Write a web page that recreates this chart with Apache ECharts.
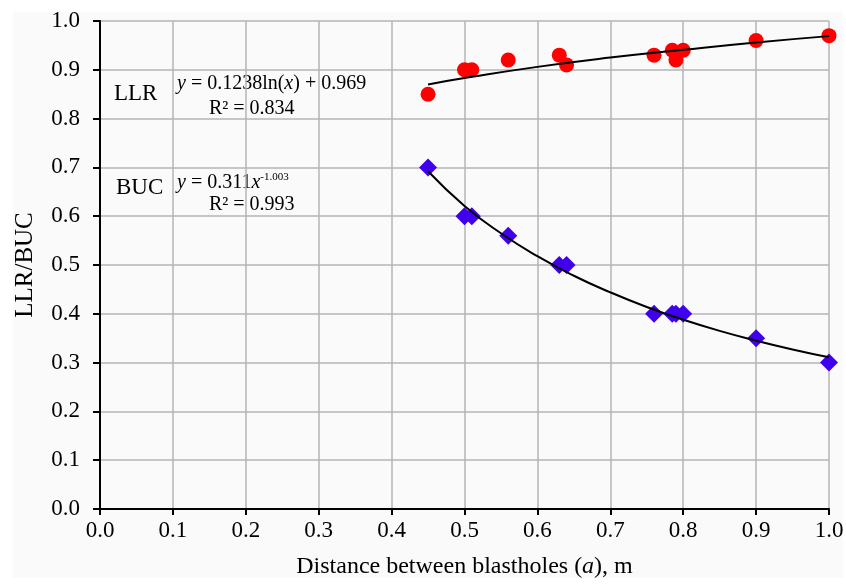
<!DOCTYPE html>
<html>
<head>
<meta charset="utf-8">
<script src="https://cdn.jsdelivr.net/npm/echarts@6/dist/echarts.min.js"></script>
<style>
  html, body { margin: 0; padding: 0; background: #fff; }
  #chart { width: 846px; height: 584px; }
</style>
</head>
<body>
<div id="chart"></div>
<script>
// LLR measurements [distance, value]
const llrPoints = [
  [0.45, 0.85], [0.50, 0.90], [0.51, 0.90], [0.56, 0.92], [0.63, 0.93], [0.64, 0.91],
  [0.76, 0.93], [0.785, 0.94], [0.79, 0.92], [0.80, 0.94], [0.90, 0.96], [1.00, 0.97]
];
// BUC measurements [distance, value]
const bucPoints = [
  [0.45, 0.70], [0.50, 0.60], [0.51, 0.60], [0.56, 0.56], [0.63, 0.50], [0.64, 0.50],
  [0.76, 0.40], [0.785, 0.40], [0.79, 0.40], [0.80, 0.40], [0.90, 0.35], [1.00, 0.30]
];
// trend lines
const llrTrend = [
  [0.45, 0.870], [0.50, 0.883], [0.60, 0.906], [0.70, 0.925], [0.80, 0.941], [0.90, 0.956], [1.00, 0.969]
];
const bucTrend = [
  [0.45, 0.692], [0.50, 0.621], [0.55, 0.565], [0.60, 0.518], [0.65, 0.478], [0.70, 0.444],
  [0.75, 0.414], [0.80, 0.388], [0.85, 0.365], [0.90, 0.345], [0.95, 0.327], [1.00, 0.311]
];

const FONT = '"Liberation Serif", "Times New Roman", serif';

const chart = echarts.init(document.getElementById('chart'), null, { renderer: 'canvas' });

const eqStyle = {
  fontFamily: FONT, fontSize: 20, fill: '#000',
  rich: {
    i: { fontFamily: FONT, fontSize: 20, fontStyle: 'italic' },
    n: { fontFamily: FONT, fontSize: 20 },
    sup: { fontFamily: FONT, fontSize: 11, verticalAlign: 'top', padding: [0, 0, 10, 0] }
  }
};

const option = {
  backgroundColor: '#fff',
  animation: false,
  graphic: [
    { type: 'rect', z: -10, shape: { x: 13, y: 12, width: 830, height: 566 }, style: { fill: '#fafafa' } },
    { type: 'text', left: 114, top: 82, style: { text: 'LLR', font: '23px ' + FONT, fill: '#000' } },
    { type: 'text', left: 177, top: 74, style: Object.assign({}, eqStyle, { text: '{i|y}{n| = 0.1238ln(}{i|x}{n|) + 0.969}' }) },
    { type: 'text', left: 209, top: 99, style: { text: 'R² = 0.834', font: '20px ' + FONT, fill: '#000' } },
    { type: 'text', left: 116, top: 176, style: { text: 'BUC', font: '23px ' + FONT, fill: '#000' } },
    { type: 'text', left: 177, top: 172, style: Object.assign({}, eqStyle, { text: '{i|y}{n| = 0.311}{i|x}{sup|-1.003}' }) },
    { type: 'text', left: 209, top: 195, style: { text: 'R² = 0.993', font: '20px ' + FONT, fill: '#000' } }
  ],
  grid: { left: 100, right: 17, top: 21, bottom: 75, containLabel: false, outerBoundsMode: 'none' },
  xAxis: {
    type: 'value', min: 0, max: 1, interval: 0.1,
    name: '{n|Distance between blastholes (}{i|a}{n|), m}',
    nameLocation: 'middle', nameGap: 46,
    nameTextStyle: {
      fontFamily: FONT, fontSize: 24, color: '#000',
      rich: {
        n: { fontFamily: FONT, fontSize: 24, color: '#000' },
        i: { fontFamily: FONT, fontSize: 24, color: '#000', fontStyle: 'italic' }
      }
    },
    axisLine: { show: true, onZero: false, lineStyle: { color: '#000', width: 2 } },
    axisTick: { show: true, inside: false, length: 6, lineStyle: { color: '#000', width: 2 } },
    axisLabel: { fontFamily: FONT, fontSize: 23, color: '#000', margin: 10,
      formatter: v => v.toFixed(1) },
    splitLine: { show: true, lineStyle: { color: '#b4b4b4', width: 1.5 } }
  },
  yAxis: {
    type: 'value', min: 0, max: 1, interval: 0.1,
    name: 'LLR/BUC',
    nameLocation: 'middle', nameGap: 62, nameRotate: 90,
    nameTextStyle: { fontFamily: FONT, fontSize: 25, color: '#000' },
    axisLine: { show: true, lineStyle: { color: '#000', width: 2 } },
    axisTick: { show: true, inside: false, length: 7, lineStyle: { color: '#000', width: 2 } },
    axisLabel: { fontFamily: FONT, fontSize: 23, color: '#000', margin: 20,
      formatter: v => v.toFixed(1) },
    splitLine: { show: true, lineStyle: { color: '#b4b4b4', width: 1.5 } }
  },
  series: [
    {
      name: 'LLR trend', type: 'line', data: llrTrend, smooth: true, symbol: 'none',
      lineStyle: { color: '#000', width: 2 }, z: 3, silent: true
    },
    {
      name: 'BUC trend', type: 'line', data: bucTrend, smooth: true, symbol: 'none',
      lineStyle: { color: '#000', width: 2 }, z: 3, silent: true
    },
    {
      name: 'LLR', type: 'scatter', data: llrPoints, symbol: 'circle', symbolSize: 15,
      itemStyle: { color: '#ff0000', opacity: 1 }, z: 2
    },
    {
      name: 'BUC', type: 'scatter', data: bucPoints, symbol: 'diamond', symbolSize: [18, 18],
      itemStyle: { color: '#4000ee', opacity: 1 }, z: 2
    }
  ]
};

chart.setOption(option);
</script>
</body>
</html>
